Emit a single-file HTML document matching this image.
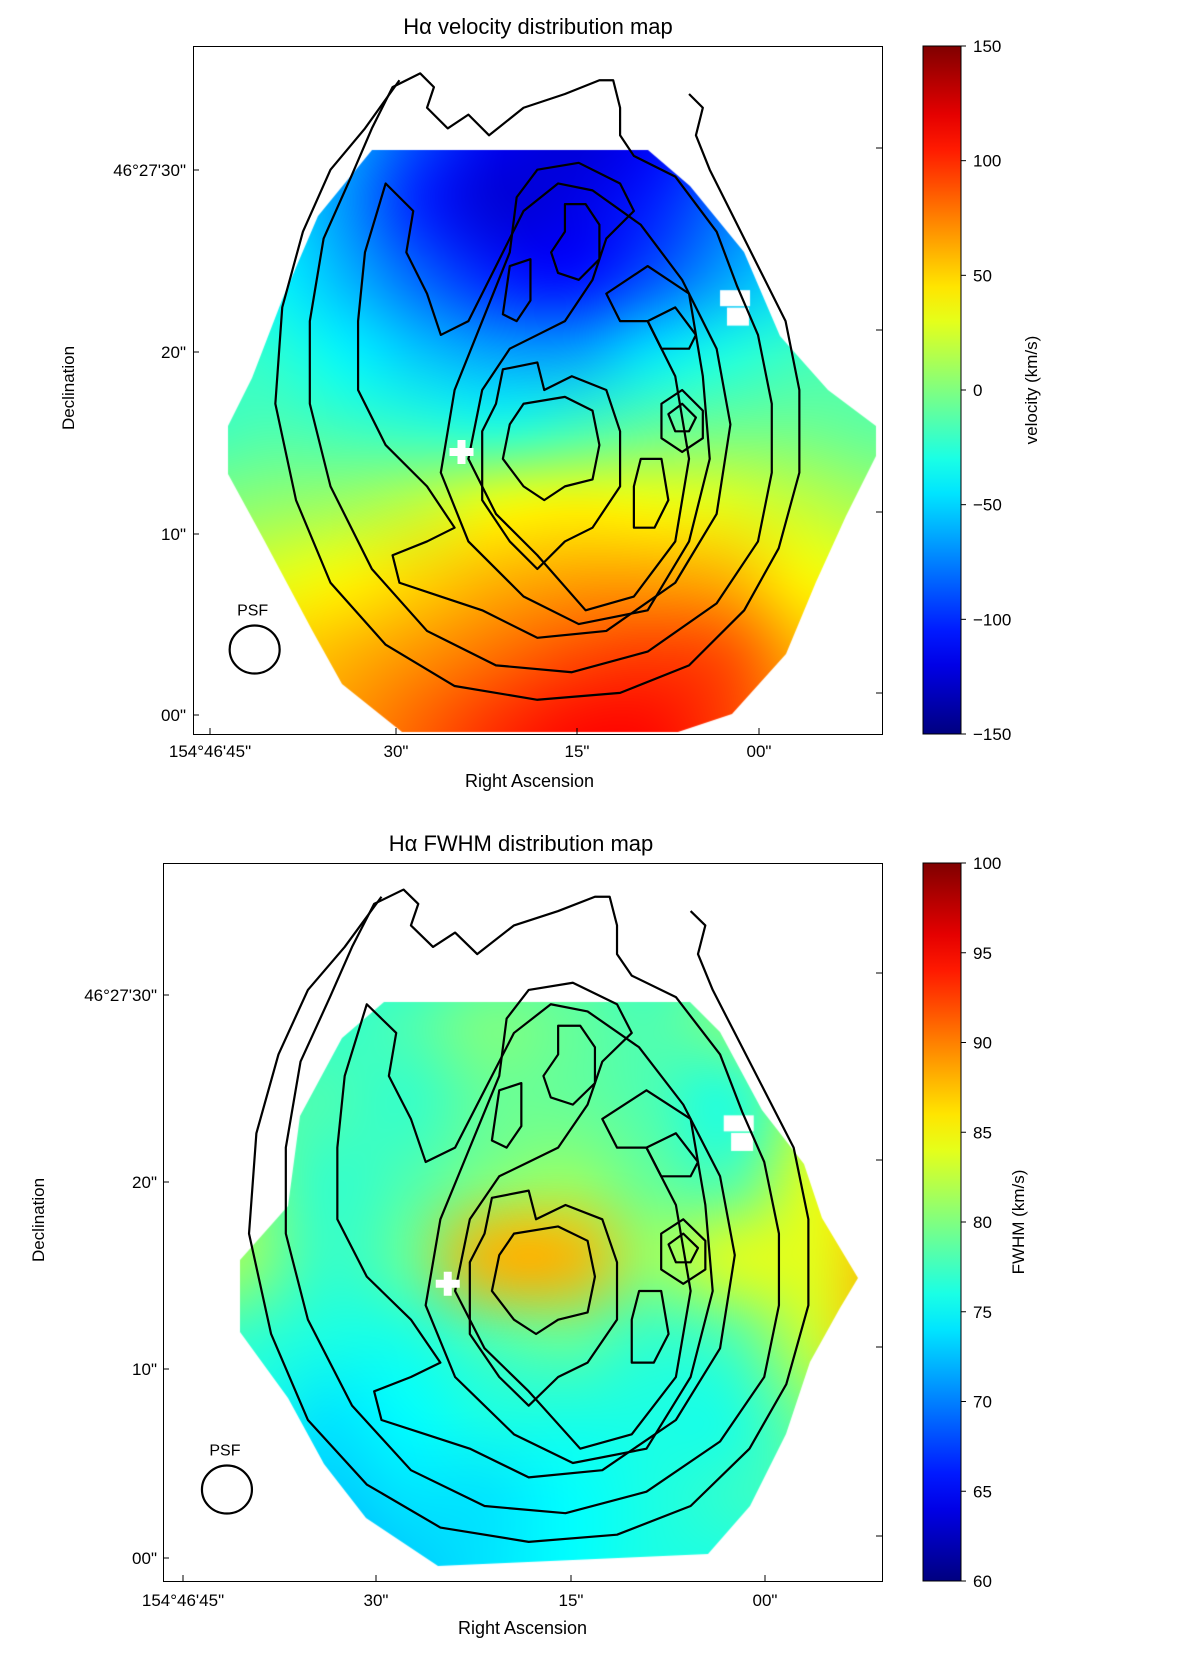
<!DOCTYPE html>
<html><head><meta charset="utf-8">
<style>
html,body{margin:0;padding:0;background:#fff;}
#root{position:relative;width:1200px;height:1661px;overflow:hidden;font-family:"Liberation Sans","DejaVu Sans",sans-serif;color:#000;}
canvas{position:absolute;left:0;top:0;}
svg{position:absolute;left:0;top:0;}
</style></head>
<body>
<div id="root">
<canvas id="cv" width="1200" height="1661"></canvas>
<svg id="sv" width="1200" height="1661"></svg>
</div>
<script>
// ---- data ----
const velTicks = [150,100,50,0,-50,-100,-150];
const fwhmTicks = [100,95,90,85,80,75,70,65,60];
const raLabels = ["154°46'45\"","30\"","15\"","00\""];
const raSeconds = [45,30,15,0];
const decLabels = ["00\"","10\"","20\"","46°27'30\""];
const decArcsec = [0,10,20,30];
// velocity grid, rows top->bottom (sky fraction y 0.05..0.95), cols left->right
const velRow0 = [-40,-40,-50,-80,-110,-120,-110,-90,-60,-40];
const velRow1 = [-40,-45,-60,-90,-115,-125,-115,-95,-60,-40];
const velRow2 = [-40,-45,-70,-105,-125,-120,-105,-80,-55,-40];
const velRow3 = [-30,-40,-60,-85,-105,-110,-90,-65,-45,-30];
const velRow4 = [-20,-25,-40,-55,-65,-65,-45,-30,-20,-15];
const velRow5 = [-20,-15,-20,-25,-30,-20,-10,-5,-5,-10];
const velRow6 = [0,5,10,20,35,40,35,30,20,10];
const velRow7 = [20,30,40,50,60,65,65,60,40,30];
const velRow8 = [40,50,60,70,80,90,95,90,60,40];
const velRow9 = [50,60,70,85,100,110,110,95,70,50];
const velGrid = [velRow0,velRow1,velRow2,velRow3,velRow4,velRow5,velRow6,velRow7,velRow8,velRow9];
const fwRow0 = [77,77,77,76,77,78,77,78,80,80];
const fwRow1 = [77,77,77,76,77,78,77,78,80,80];
const fwRow2 = [78,78,77,78,80,79,78,80,82,82];
const fwRow3 = [78,78,78,77,79,79,78,76,82,84];
const fwRow4 = [80,80,77,78,80,81,79,78,84,86];
const fwRow5 = [83,81,77,79,88,88,81,84,84,88];
const fwRow6 = [78,77,76,76,78,79,77,78,83,88];
const fwRow7 = [76,76,74,75,76,76,76,76,80,86];
const fwRow8 = [75,74,73,74,74,75,76,77,78,80];
const fwRow9 = [74,73,72,73,74,75,76,76,76,76];
const fwGrid = [fwRow0,fwRow1,fwRow2,fwRow3,fwRow4,fwRow5,fwRow6,fwRow7,fwRow8,fwRow9];

// ---- geometry (sky fraction -> pixels) ----
const panels = [
 {key:'vel', title:'Hα velocity distribution map', cbLabel:'velocity (km/s)',
  fx:[689.5,192.6], fy:[688.4,45.8], frame:[193,46,882,734], cb:[923,46,961,734],
  vmin:-150, vmax:150, ticks:velTicks, grid:velGrid,
  raPx:[210,396,577,759], raY:751, decPx:[715,534,352,170], decX:186,
  titleX:538, titleY:34, raTitleY:787, decTitleX:68, cbLblX:1037,
  mask:[[0.26,0.15],[0.66,0.15],[0.72,0.2],[0.80,0.3],[0.85,0.42],[0.92,0.5],[0.99,0.55],[0.99,0.6],[0.95,0.68],[0.90,0.78],[0.86,0.88],[0.78,0.97],[0.7,1.0],[0.3,1.0],[0.22,0.93],[0.17,0.85],[0.10,0.72],[0.05,0.62],[0.05,0.55],[0.09,0.48],[0.13,0.37],[0.18,0.25]]},
 {key:'fw', title:'Hα FWHM distribution map', cbLabel:'FWHM (km/s)',
  fx:[736.0,160.7], fy:[716.8,860.9], frame:[163,863,882,1581], cb:[923,863,961,1581],
  vmin:60, vmax:100, ticks:fwhmTicks, grid:fwGrid,
  raPx:[183,376,571,765], raY:1600, decPx:[1558,1369,1182,995], decX:157,
  titleX:521, titleY:851, raTitleY:1634, decTitleX:38, cbLblX:1024,
  mask:[[0.30,0.195],[0.72,0.195],[0.76,0.24],[0.82,0.35],[0.87,0.42],[0.90,0.5],[0.945,0.58],[0.92,0.62],[0.88,0.70],[0.85,0.8],[0.80,0.9],[0.74,0.97],[0.38,0.98],[0.28,0.92],[0.22,0.84],[0.17,0.75],[0.11,0.66],[0.11,0.56],[0.17,0.48],[0.19,0.36],[0.25,0.25]]}
];

function jet(t){
  t=Math.max(0,Math.min(1,t));
  const r=Math.max(0,Math.min(1,1.5-Math.abs(4*t-3)));
  const g=Math.max(0,Math.min(1,1.5-Math.abs(4*t-2)));
  const b=Math.max(0,Math.min(1,1.5-Math.abs(4*t-1)));
  return [Math.round(r*255),Math.round(g*255),Math.round(b*255)];
}
const cv=document.getElementById('cv'), ctx=cv.getContext('2d');
const NS='http://www.w3.org/2000/svg', sv=document.getElementById('sv');
function el(tag,attrs,parent){const e=document.createElementNS(NS,tag);for(const k in attrs)e.setAttribute(k,attrs[k]);(parent||sv).appendChild(e);return e;}
function txt(s,x,y,size,anchor,parent){const t=el('text',{x:x,y:y,'font-size':size,'text-anchor':anchor||'middle','font-family':'Liberation Sans, DejaVu Sans, sans-serif'},parent);t.textContent=s;return t;}

const contours = [
 "M0.29,0.06 L0.33,0.04 L0.35,0.06 L0.34,0.09 L0.37,0.12 L0.40,0.10 L0.43,0.13 L0.48,0.09 L0.54,0.07 L0.59,0.05 L0.61,0.05 L0.62,0.09 L0.62,0.13 L0.64,0.16 L0.70,0.19 L0.76,0.27 L0.79,0.35 L0.82,0.42 L0.84,0.52 L0.84,0.62 L0.82,0.72 L0.76,0.81 L0.66,0.88 L0.55,0.91 L0.44,0.90 L0.34,0.85 L0.26,0.76 L0.20,0.64 L0.17,0.52 L0.17,0.40 L0.19,0.28 L0.23,0.19 L0.26,0.12 Z",
 "M0.28,0.20 L0.32,0.24 L0.31,0.30 L0.34,0.36 L0.36,0.42 L0.40,0.40 L0.44,0.32 L0.48,0.24 L0.53,0.20 L0.58,0.21 L0.65,0.26 L0.71,0.34 L0.76,0.44 L0.78,0.55 L0.76,0.68 L0.70,0.78 L0.60,0.85 L0.50,0.86 L0.42,0.82 L0.36,0.80 L0.30,0.78 L0.29,0.74 L0.34,0.72 L0.38,0.70 L0.34,0.64 L0.28,0.58 L0.24,0.50 L0.24,0.40 L0.25,0.30 Z",
 "M0.50,0.18 L0.56,0.17 L0.62,0.20 L0.64,0.24 L0.60,0.28 L0.58,0.34 L0.54,0.40 L0.50,0.42 L0.46,0.44 L0.42,0.50 L0.40,0.60 L0.44,0.68 L0.50,0.74 L0.57,0.82 L0.64,0.80 L0.70,0.72 L0.72,0.60 L0.70,0.48 L0.66,0.40 L0.62,0.40 L0.60,0.36 L0.66,0.32 L0.72,0.36 L0.74,0.48 L0.75,0.60 L0.72,0.72 L0.66,0.82 L0.56,0.84 L0.48,0.80 L0.40,0.72 L0.36,0.62 L0.38,0.50 L0.42,0.40 L0.46,0.30 L0.47,0.22 Z",
 "M0.54,0.23 L0.57,0.23 L0.59,0.26 L0.59,0.31 L0.56,0.34 L0.53,0.33 L0.52,0.30 L0.54,0.27 Z",
 "M0.46,0.32 L0.49,0.31 L0.49,0.37 L0.47,0.40 L0.45,0.39 Z",
 "M0.45,0.47 L0.50,0.46 L0.51,0.50 L0.55,0.48 L0.60,0.50 L0.62,0.56 L0.62,0.64 L0.58,0.70 L0.54,0.72 L0.50,0.76 L0.46,0.72 L0.42,0.66 L0.42,0.56 L0.44,0.52 Z",
 "M0.48,0.52 L0.54,0.51 L0.58,0.53 L0.59,0.58 L0.58,0.63 L0.54,0.64 L0.51,0.66 L0.48,0.64 L0.45,0.60 L0.46,0.55 Z",
 "M0.66,0.40 L0.70,0.38 L0.73,0.42 L0.72,0.44 L0.68,0.44 Z",
 "M0.68,0.52 L0.71,0.50 L0.74,0.53 L0.74,0.57 L0.71,0.59 L0.68,0.57 Z",
 "M0.69,0.535 L0.71,0.52 L0.73,0.54 L0.72,0.56 L0.70,0.56 Z",
 "M0.65,0.60 L0.68,0.60 L0.69,0.66 L0.67,0.70 L0.64,0.70 L0.64,0.64 Z",
 "M0.72,0.07 L0.74,0.09 L0.73,0.13 L0.75,0.18 L0.78,0.24 L0.82,0.32 L0.86,0.40 L0.88,0.50 L0.88,0.62 L0.85,0.73 L0.80,0.82 L0.72,0.90 L0.62,0.94 L0.50,0.95 L0.38,0.93 L0.28,0.87 L0.20,0.78 L0.15,0.66 L0.12,0.52 L0.13,0.38 L0.16,0.27 L0.20,0.18 L0.25,0.12 L0.30,0.05"
];

panels.forEach((p,pi)=>{
  const X=f=>p.fx[0]*f+p.fx[1], Y=f=>p.fy[0]*f+p.fy[1];
  const g=el('g',{},sv);
  
  
  const rows=p.grid.length, cols=p.grid[0].length;
  const small=document.createElement('canvas'); small.width=cols; small.height=rows;
  const sc=small.getContext('2d'); const img=sc.createImageData(cols,rows);
  for(let r=0;r<rows;r++)for(let c=0;c<cols;c++){const col=jet((p.grid[r][c]-p.vmin)/(p.vmax-p.vmin));const i=(r*cols+c)*4;img.data[i]=col[0];img.data[i+1]=col[1];img.data[i+2]=col[2];img.data[i+3]=255;}
  sc.putImageData(img,0,0);
  ctx.save(); ctx.beginPath();
  p.mask.forEach((m,i)=>{const x=Math.round(X(m[0])/6)*6,y=Math.round(Y(m[1])/6)*6;i?ctx.lineTo(x,y):ctx.moveTo(x,y);});
  ctx.closePath(); ctx.clip();
  ctx.imageSmoothingEnabled=true; ctx.imageSmoothingQuality='high';
  ctx.drawImage(small,X(-0.05),Y(-0.05),p.fx[0]*1.1,p.fy[0]*1.1);
  ctx.restore();
  ctx.fillStyle='#fff';
  ctx.fillRect(X(0.765),Y(0.355),30,16); ctx.fillRect(X(0.775),Y(0.36)+14,22,18);
  const [fx0,fy0,fx1,fy1]=p.frame;
  const fr=el('rect',{x:fx0+0.5,y:fy0+0.5,width:fx1-fx0,height:fy1-fy0,fill:'none',stroke:'#000','stroke-width':1},g);
  
  
  const cg=el('g',{transform:`matrix(${p.fx[0]},0,0,${p.fy[0]},${p.fx[1]},${p.fy[1]})`},g);
  
  
  contours.forEach((d,i)=>{const pa=el('path',{d:d,fill:'none',stroke:'#000','stroke-width':2.2,'vector-effect':'non-scaling-stroke','stroke-linejoin':'round'},cg);
    
    });
  const cx=X(0.39), cy=Y(0.59);
  const cr=el('path',{d:`M${cx-12},${cy-4}h8v-8h8v8h8v8h-8v8h-8v-8h-8z`,fill:'#fff'},g);
  
  
  const px=X(0.09), py=Y(0.877);
  const ps=el('ellipse',{cx:px,cy:py,rx:25,ry:24,fill:'none',stroke:'#000','stroke-width':2.2},g);
  
  
  const pt=txt('PSF',px-2,py-34,16,'middle',g);
  
  
  const tt=txt(p.title,p.titleX,p.titleY,22,'middle',g);
  
  
  raLabels.forEach((s,i)=>{
    const x=p.raPx[i];
    el('line',{x1:x,y1:fy1,x2:x,y2:fy1-6,stroke:'#000'},g);
    const t=txt(s,x,p.raY+6,17,'middle',g);
    
    
  });
  decLabels.forEach((s,i)=>{
    const y=p.decPx[i];
    el('line',{x1:fx0,y1:y,x2:fx0+6,y2:y,stroke:'#000'},g);
    el('line',{x1:fx1,y1:y-22,x2:fx1-6,y2:y-22,stroke:'#000'},g);
    const t=txt(s,p.decX,y+6,17,'end',g);
    
    
  });
  const ra=txt('Right Ascension',(fx0+fx1)/2-(pi?0:8),p.raTitleY,18,'middle',g);
  
  
  const dc=txt('Declination',0,0,17,'middle',g);
  dc.setAttribute('transform',`translate(${p.decTitleX+6},${(fy0+fy1)/2-2}) rotate(-90)`);
  
  
  const [cx0,cy0,cx1,cy1]=p.cb;
  const gid='grad'+pi;
  const defs=el('defs',{},g); const lg=el('linearGradient',{id:gid,x1:0,y1:1,x2:0,y2:0},defs);
  for(let k=0;k<=20;k++){const c=jet(k/20);el('stop',{offset:k/20,'stop-color':`rgb(${c[0]},${c[1]},${c[2]})`},lg);}
  const cbr=el('rect',{x:cx0,y:cy0,width:cx1-cx0,height:cy1-cy0,fill:`url(#${gid})`,stroke:'#000','stroke-width':1},g);
  
  
  const cs=v=>cy1-(v-p.vmin)/(p.vmax-p.vmin)*(cy1-cy0);
  p.ticks.forEach(v=>{
    const y=cs(v);
    el('line',{x1:cx1,y1:y,x2:cx1+5,y2:y,stroke:'#000'},g);
    const t=txt(v<0?'\u2212'+(-v):String(v),cx1+12,y+6,17,'start',g);
    
    
  });
  const cl=txt(p.cbLabel,0,0,17,'middle',g);
  cl.setAttribute('transform',`translate(${p.cbLblX},${(cy0+cy1)/2}) rotate(-90)`);
  
  
});
</script>
</body></html>
